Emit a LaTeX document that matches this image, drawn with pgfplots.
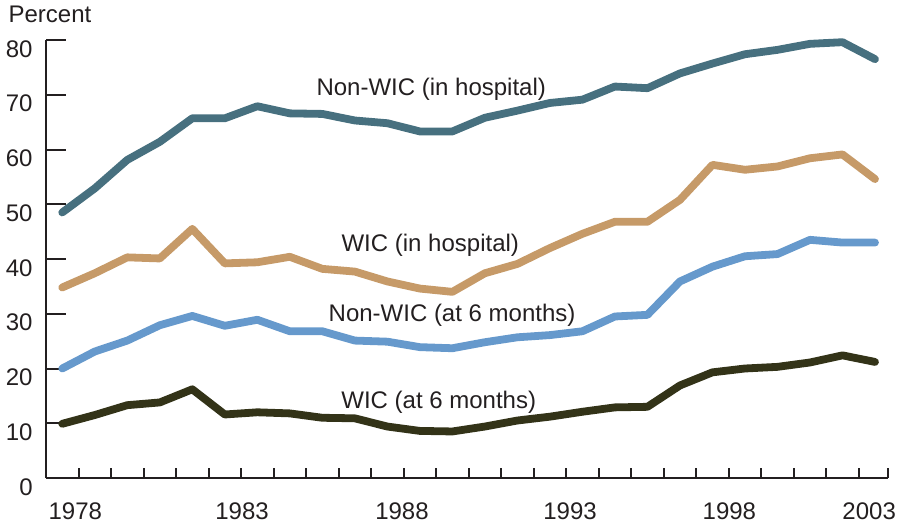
\documentclass[border=0pt]{standalone}
\usepackage{fontspec}
\setmainfont{Liberation Sans}
\usepackage{pgfplots}
\pgfplotsset{compat=1.18}
\usepackage{pgfplotstable}
\definecolor{txt}{HTML}{231F20}
\definecolor{teal}{HTML}{47707F}
\definecolor{tan}{HTML}{C69A68}
\definecolor{lblue}{HTML}{6699CC}
\definecolor{dolive}{HTML}{333318}
\pgfplotstableread{
year nwh wh nw6 w6
1978 48.5 34.8 20.0 9.9
1979 52.9 37.4 23.1 11.5
1980 58.1 40.3 25.1 13.3
1981 61.4 40.1 27.9 13.8
1982 65.7 45.5 29.6 16.2
1983 65.7 39.2 27.8 11.6
1984 67.9 39.4 28.9 12.0
1985 66.6 40.4 26.8 11.8
1986 66.5 38.2 26.8 11.0
1987 65.3 37.7 25.1 10.9
1988 64.8 35.9 24.9 9.4
1989 63.3 34.6 23.9 8.6
1990 63.3 34.0 23.7 8.5
1991 65.8 37.4 24.8 9.4
1992 67.1 39.1 25.7 10.5
1993 68.5 42.0 26.1 11.2
1994 69.1 44.6 26.8 12.1
1995 71.5 46.8 29.5 12.9
1996 71.2 46.8 29.8 13.0
1997 73.9 50.8 35.9 16.9
1998 75.7 57.2 38.6 19.3
1999 77.4 56.3 40.5 20.0
2000 78.2 56.9 40.9 20.3
2001 79.3 58.4 43.5 21.1
2002 79.6 59.1 43.0 22.4
2003 76.5 54.6 43.0 21.2
}\datatable
\begin{document}
\begin{tikzpicture}
\useasboundingbox (-23pt,-23pt) rectangle (426pt,239pt);
\begin{axis}[
  at={(0,0)}, anchor=south west, scale only axis,
  width=421pt, height=219pt,
  xmin=1977.5, xmax=2003.4, ymin=0, ymax=80,
  enlargelimits=false, clip=false,
  axis lines=left,
  axis line style={-, line width=1pt, color=txt},
  tick align=inside,
  ytick={0,10,...,80},
  xtick={1978.40,1983.53,1988.45,1993.62,1998.52,2002.82},
  xticklabels={1978,1983,1988,1993,1998,2003},
  minor xtick={1978.5,1979.5,1980.5,1981.5,1982.5,1983.5,1984.5,1985.5,1986.5,1987.5,1988.5,1989.5,1990.5,1991.5,1992.5,1993.5,1994.5,1995.5,1996.5,1997.5,1998.5,1999.5,2000.5,2001.5,2002.5,2003.4},
  major tick length=10pt, minor tick length=5pt,
  major x tick style={draw=none},
  minor x tick style={line width=1pt, color=txt},
  ytick style={line width=1pt, color=txt},
  /pgf/number format/assume math mode=true,
  tick label style={font=\fontsize{12}{14}\selectfont, text=txt},
  xticklabel style={anchor=north, inner sep=0pt, yshift=-12pt},
  yticklabel style={anchor=north east, inner sep=0pt, xshift=-6.5pt},
  every axis plot/.append style={line width=3.9pt, line cap=round, line join=round},
]
\addplot[color=teal] table[x=year, y=nwh] {\datatable};
\addplot[color=tan] table[x=year, y=wh] {\datatable};
\addplot[color=lblue] table[x=year, y=nw6] {\datatable};
\addplot[color=dolive] table[x=year, y=w6] {\datatable};
\begin{scope}[every node/.style={font=\fontsize{12}{14}\selectfont, text=txt, inner sep=0pt, anchor=base}]
\node at (axis cs:1989.35,69.95) {Non-WIC (in hospital)};
\node at (axis cs:1989.32,41.3) {WIC (in hospital)};
\node at (axis cs:1989.99,28.55) {Non-WIC (at 6 months)};
\node at (axis cs:1989.58,12.73) {WIC (at 6 months)};
\end{scope}
\end{axis}
\node[anchor=base west, inner sep=0pt, font=\fontsize{12}{14}\selectfont, text=txt] at (-18.9pt,227.5pt) {Percent};
\end{tikzpicture}
\end{document}
